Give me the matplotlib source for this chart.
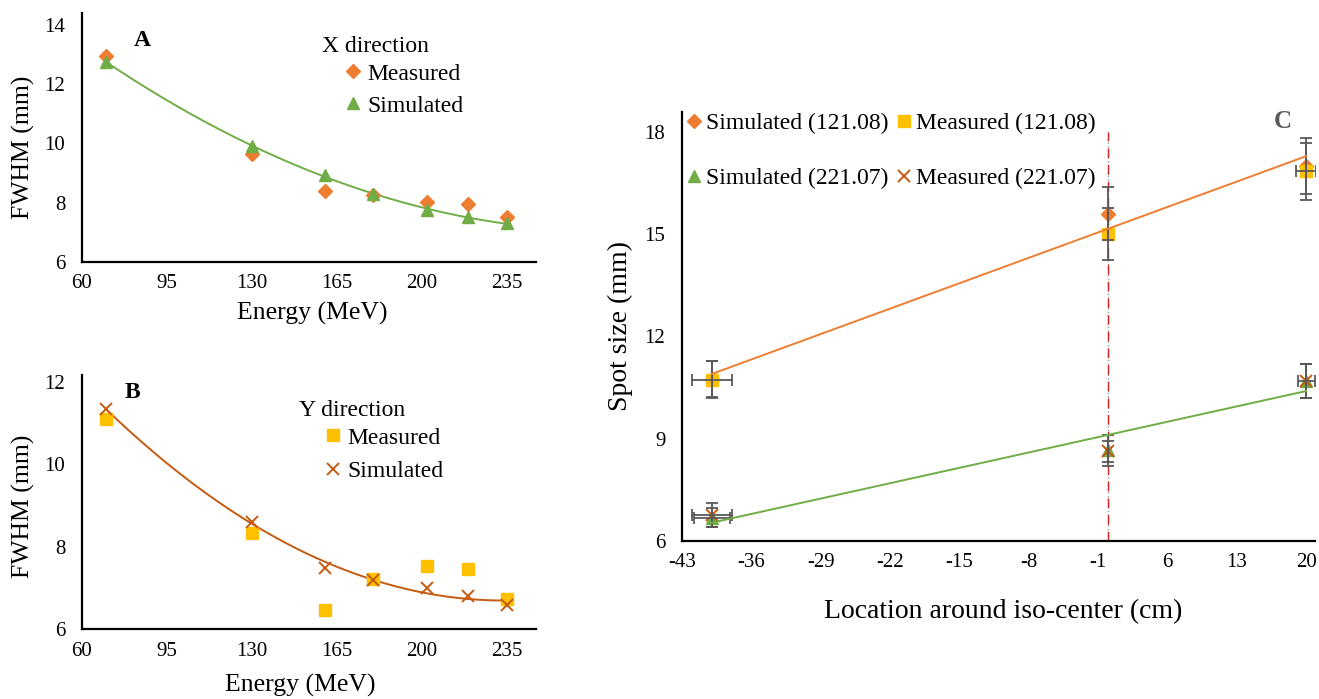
import numpy as np
import matplotlib
matplotlib.use('Agg')
import matplotlib.pyplot as plt
from matplotlib.lines import Line2D

plt.rcParams['font.family'] = ['Liberation Serif', 'DejaVu Serif']
plt.rcParams['axes.unicode_minus'] = False

# ---------------- data ----------------
# Panel A: X direction
energy = [70, 130, 160, 180, 202, 219, 235]
fwhm_x_measured = [12.95, 9.66, 8.39, 8.25, 8.01, 7.95, 7.52]
fwhm_x_simulated = [12.74, 9.92, 8.93, 8.28, 7.75, 7.52, 7.30]

# Panel B: Y direction
fwhm_y_measured = [11.10, 8.34, 6.47, 7.23, 7.54, 7.47, 6.73]
fwhm_y_simulated = [11.33, 8.61, 7.49, 7.19, 6.99, 6.81, 6.60]

energy_ticks = [60, 95, 130, 165, 200, 235]

# Panel C: spot size around iso-center
location = [-40, 0, 20]
sim_121 = [10.75, 15.60, 17.00]
sim_121_yerr = [0.54, 0.78, 0.83]
meas_121 = [10.73, 15.00, 16.85]
meas_121_yerr = [0.54, 0.76, 0.83]
meas_121_xerr = [2.0, 0.0, 1.0]
sim_221 = [6.68, 8.65, 10.70]
sim_221_yerr = [0.27, 0.45, 0.50]
sim_221_xerr = [1.8, 0.0, 0.0]
meas_221 = [6.76, 8.62, 10.70]
meas_221_yerr = [0.35, 0.30, 0.50]
meas_221_xerr = [2.0, 0.0, 0.85]
location_ticks = [-43, -36, -29, -22, -15, -8, -1, 6, 13, 20]
iso_center = 0

# ---------------- style ----------------
ORANGE = '#ED7D31'
GREEN = '#70AD47'
GOLD = '#FFC000'
BROWN = '#C55A11'
ERR = '#595959'

W, H = 1319, 699
fig = plt.figure(figsize=(W / 100, H / 100), dpi=100)


def fx(px):
    return px / W


def fy(py):
    return 1 - py / H


def axes_px(left, top, right, bottom):
    return fig.add_axes([fx(left), fy(bottom), (right - left) / W, (bottom - top) / H])


def style_axes(ax):
    for s in ['top', 'right']:
        ax.spines[s].set_visible(False)
    for s in ['left', 'bottom']:
        ax.spines[s].set_linewidth(1.6)
        ax.spines[s].set_color('black')
    ax.tick_params(length=0, labelsize=15)


# ---------------- Panel A ----------------
axA = axes_px(82, 13, 536, 262)
style_axes(axA)
axA.tick_params(axis='y', pad=12)
axA.tick_params(axis='x', pad=9)
axA.set_xlim(60, 247)
axA.set_ylim(6, 14.4)
axA.set_xticks(energy_ticks)
axA.set_yticks([6, 8, 10, 12, 14])
cA = np.polyfit(energy, fwhm_x_simulated, 2)
eA = np.linspace(min(energy), max(energy), 200)
axA.plot(eA, np.polyval(cA, eA), color=GREEN, lw=1.4, zorder=2)
axA.plot(energy, fwhm_x_measured, 'D', color=ORANGE, ms=7, zorder=3, label='Measured')
axA.plot(energy, fwhm_x_simulated, '^', color=GREEN, ms=9, zorder=4, label='Simulated')
axA.set_xlabel('Energy (MeV)', fontsize=18.5, va='center')
axA.xaxis.set_label_coords(0.507, -0.205)
axA.set_ylabel('FWHM (mm)', fontsize=18.5, va='center')
axA.yaxis.set_label_coords(-0.13, 0.462)
axA.legend(loc='upper left', bbox_to_anchor=(fx(346), fy(63)), bbox_transform=fig.transFigure,
           frameon=False, fontsize=17, handlelength=0.6, handletextpad=0.3,
           labelspacing=0.45, borderpad=0, borderaxespad=0)
fig.text(fx(142), fy(41), 'A', fontsize=17, fontweight='bold', ha='center', va='center')
fig.text(fx(322), fy(47), 'X direction', fontsize=17, ha='left', va='center')

# ---------------- Panel B ----------------
axB = axes_px(82, 375, 536, 629.3)
style_axes(axB)
axB.tick_params(axis='y', pad=12)
axB.tick_params(axis='x', pad=9)
axB.set_xlim(60, 247)
axB.set_ylim(6, 12.16)
axB.set_xticks(energy_ticks)
axB.set_yticks([6, 8, 10, 12])
cB = np.polyfit(energy, fwhm_y_simulated, 2)
axB.plot(eA, np.polyval(cB, eA), color=BROWN, lw=1.4, zorder=2)
axB.plot(energy, fwhm_y_measured, 's', color=GOLD, ms=8, zorder=3, label='Measured')
axB.plot(energy, fwhm_y_simulated, 'x', color=BROWN, ms=8, mew=1.4, zorder=4, label='Simulated')
axB.set_xlabel('Energy (MeV)', fontsize=18.5, va='center')
axB.xaxis.set_label_coords(0.48, -0.219)
axB.set_ylabel('FWHM (mm)', fontsize=18.5, va='center')
axB.yaxis.set_label_coords(-0.13, 0.482)
axB.legend(loc='upper left', bbox_to_anchor=(fx(326), fy(427)), bbox_transform=fig.transFigure,
           frameon=False, fontsize=17, handlelength=0.6, handletextpad=0.3,
           labelspacing=0.5, borderpad=0, borderaxespad=0)
fig.text(fx(132), fy(392), 'B', fontsize=17, fontweight='bold', ha='center', va='center')
fig.text(fx(299), fy(411), 'Y direction', fontsize=17, ha='left', va='center')

# ---------------- Panel C ----------------
axC = axes_px(682, 111.7, 1315, 540.7)
style_axes(axC)
axC.tick_params(axis='y', pad=12)
axC.tick_params(axis='x', pad=9)
axC.set_xlim(-43, 20.9)
axC.set_ylim(6, 18.6)
axC.set_xticks(location_ticks)
axC.set_yticks([6, 9, 12, 15, 18])

ymax_frac = (18 - 6) / (18.6 - 6)
axC.axvline(iso_center, ymin=0, ymax=ymax_frac, color='#9A9A9A', lw=1.0, ls=':', zorder=1)
axC.axvline(iso_center, ymin=0, ymax=ymax_frac, color='#D62728', lw=1.0, dashes=(7, 5), zorder=1)

h1, = axC.plot(location, sim_121, 'D', color=ORANGE, ms=7, zorder=3, label='Simulated (121.08)')
h2, = axC.plot(location, meas_121, 's', color=GOLD, ms=9, zorder=3, label='Measured (121.08)')
h3, = axC.plot(location, sim_221, '^', color=GREEN, ms=9, zorder=3, label='Simulated (221.07)')
h4, = axC.plot(location, meas_221, 'x', color=BROWN, ms=9, mew=1.4, zorder=3, label='Measured (221.07)')

ekw = dict(fmt='none', ecolor=ERR, elinewidth=1.3, capsize=4, capthick=1.3, zorder=4)
axC.errorbar(location, sim_121, yerr=sim_121_yerr, **ekw)
axC.errorbar(location, meas_121, yerr=meas_121_yerr, xerr=meas_121_xerr, **ekw)
axC.errorbar(location, sim_221, yerr=sim_221_yerr, xerr=sim_221_xerr, **ekw)
axC.errorbar(location, meas_221, yerr=meas_221_yerr, xerr=meas_221_xerr, **ekw)

xl = np.array([min(location), max(location)])
c121 = np.polyfit(location, sim_121, 1)
c221 = np.polyfit(location, sim_221, 1)
axC.plot(xl, np.polyval(c121, xl), color=ORANGE, lw=1.4, zorder=5)
axC.plot(xl, np.polyval(c221, xl), color=GREEN, lw=1.4, zorder=5)

axC.set_xlabel('Location around iso-center (cm)', fontsize=20, va='center')
axC.xaxis.set_label_coords(0.507, -0.166)
axC.set_ylabel('Spot size (mm)', fontsize=20, va='center')
axC.yaxis.set_label_coords(-0.098, 0.50)
axC.legend(handles=[h1, h3, h2, h4], ncol=2, loc='upper left',
           bbox_to_anchor=(fx(687), fy(113)), bbox_transform=fig.transFigure,
           frameon=False, fontsize=17, handlelength=0.6, handletextpad=0.2,
           labelspacing=1.4, columnspacing=0.35, borderpad=0, borderaxespad=0)
fig.text(fx(1283), fy(122), 'C', fontsize=18, fontweight='bold', color='#595959',
         ha='center', va='center')

fig.savefig('out.png', dpi=100)
